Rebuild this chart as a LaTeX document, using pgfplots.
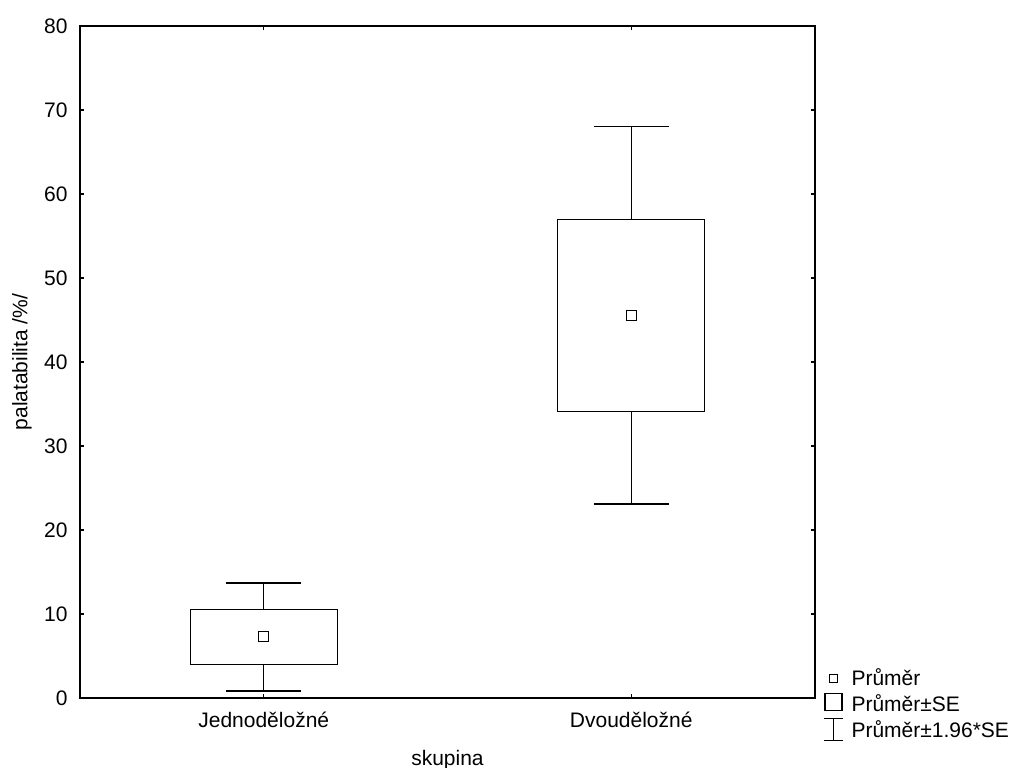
\documentclass[border=0pt]{standalone}
\usepackage{fontspec}
\setmainfont{Liberation Sans}
\usepackage{pgfplots}
\pgfplotsset{compat=1.18}
\begin{document}
\begin{tikzpicture}
\useasboundingbox (-40pt,-34.5pt) rectangle (466.5pt,349pt);
\begin{axis}[
 at={(0,0)}, anchor=south west, scale only axis, width=367.5pt, height=336pt,
 xmin=0.5, xmax=2.5, ymin=0, ymax=80,
 xtick={1,2}, xticklabels={Jednoděložné,Dvouděložné},
 ytick={0,10,...,80},
 tick align=inside, major tick length=2pt,
 axis line style={line width=0.6pt},
 every tick/.style={line width=0.6pt, black},
 /pgf/number format/assume math mode=true,
 every tick label/.append style={font=\fontsize{10.5}{12}\selectfont},
 label style={font=\fontsize{10.5}{12}\selectfont},
 xticklabel style={anchor=north, inner sep=0pt, yshift=-6pt, text height=8.5pt, text depth=2pt},
 yticklabel style={anchor=east, inner sep=0pt, xshift=-6pt},
 xlabel={skupina}, ylabel={palatabilita /\%/},
 xlabel style={at={(axis description cs:0.5,-0.092)}, anchor=center},
 ylabel style={at={(axis description cs:-0.079,0.5)}, anchor=center},
 legend style={draw=none, fill=none, at={(1.0122,-0.0692)}, anchor=south west,
   inner sep=0pt, row sep=0pt, column sep=4pt,
   font=\fontsize{10.5}{12}\selectfont,
   nodes={inner sep=0.5pt, text height=9.2pt, text depth=2.75pt}},
 legend cell align=left,
 every axis plot/.append style={black, line width=0.6pt, line cap=rect, line join=miter},
]
% group 1: box (mean +- SE)
\addplot[forget plot] coordinates {(0.8,3.97) (1.2,3.97) (1.2,10.56) (0.8,10.56) (0.8,3.97)};
% whiskers (mean +- 1.96 SE)
\addplot[forget plot] coordinates {(1,10.56) (1,13.7)};
\addplot[forget plot] coordinates {(0.9,13.7) (1.1,13.7)};
\addplot[forget plot] coordinates {(1,3.97) (1,0.83)};
\addplot[forget plot] coordinates {(0.9,0.83) (1.1,0.83)};
% group 2
\addplot[forget plot] coordinates {(1.8,34.08) (2.2,34.08) (2.2,56.98) (1.8,56.98) (1.8,34.08)};
\addplot[forget plot] coordinates {(2,56.98) (2,68.0)};
\addplot[forget plot] coordinates {(1.9,68.0) (2.1,68.0)};
\addplot[forget plot] coordinates {(2,34.08) (2,23.1)};
\addplot[forget plot] coordinates {(1.9,23.1) (2.1,23.1)};
% means
\addplot[only marks, mark=square, mark size=2.5pt,
  mark options={solid, fill=white, draw=black, line width=0.6pt}, forget plot]
  coordinates {(1,7.3) (2,45.55)};
\addlegendimage{legend image code/.code={\draw[line width=0.6pt, black] (2.25pt,-1.75pt) rectangle (6.25pt,2.25pt);}}
\addlegendentry{Průměr}
\addlegendimage{legend image code/.code={\draw[line width=0.6pt, black] (0pt,-3.1pt) rectangle (8.5pt,5.4pt);}}
\addlegendentry{Průměr±SE}
\addlegendimage{legend image code/.code={\draw[line width=0.6pt, black] (0pt,-4.5pt) -- (8.5pt,-4.5pt) (0pt,6.5pt) -- (8.5pt,6.5pt) (4.25pt,-4.5pt) -- (4.25pt,6.5pt);}}
\addlegendentry{Průměr±1.96*SE}
\end{axis}
\end{tikzpicture}
\end{document}
